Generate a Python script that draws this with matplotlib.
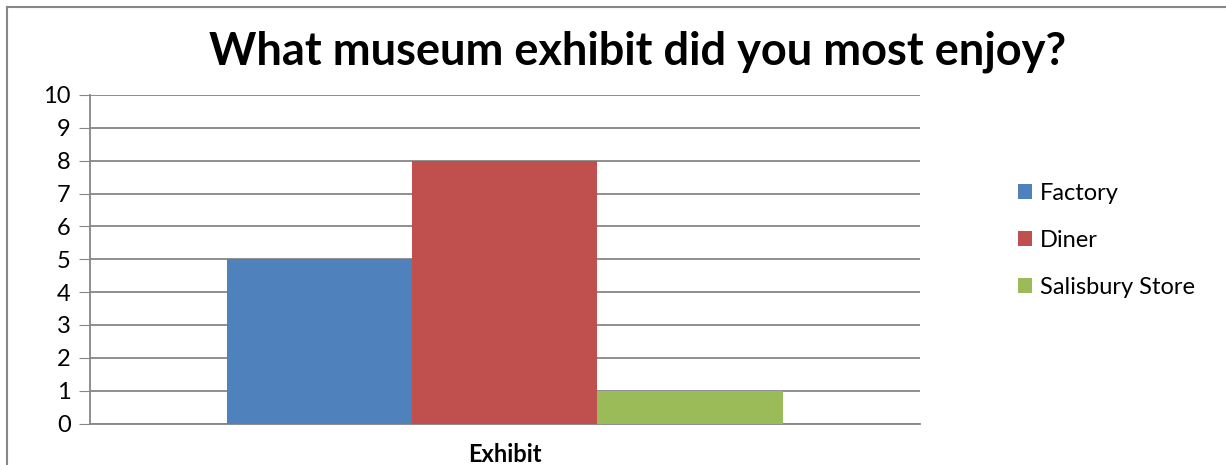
import matplotlib.pyplot as plt
from matplotlib.lines import Line2D

categories = ['Exhibit']
series = ['Factory', 'Diner', 'Salisbury Store']
values = [5, 8, 1]
colors = ['#4F81BD', '#C0504D', '#9BBB59']
yticks = list(range(0, 11))

plt.rcParams['font.family'] = ['Lato', 'DejaVu Sans']

fig = plt.figure(figsize=(12.26, 4.65), dpi=100)
ax = fig.add_axes([0.0734, 0.0892, 0.677, 0.7065])

w = 0.2229
for i, (name, v, c) in enumerate(zip(series, values, colors)):
    ax.bar(0 + (i - 1) * w, v, width=w, color=c, label=name, zorder=3)

ax.set_xlim(-0.5, 0.5)
ax.set_ylim(0, 10)
ax.set_yticks(yticks)
ax.set_xticks([0])
ax.set_xticklabels(categories, fontweight='bold', fontsize=17)
ax.tick_params(axis='x', length=0, pad=14)
ax.tick_params(axis='y', length=8, color='#868686', labelsize=17, pad=6)
ax.grid(axis='y', color='#868686', linewidth=1.3, zorder=0)
for s in ['top', 'right']:
    ax.spines[s].set_visible(False)
for s in ['left', 'bottom']:
    ax.spines[s].set_color('#868686')
    ax.spines[s].set_linewidth(1.3)

fig.text(0.52, 0.888, 'What museum exhibit did you most enjoy?',
         ha='center', va='center', fontsize=32.5, fontweight='bold')

ax.legend(loc='center left', bbox_to_anchor=(1.092, 0.557), frameon=False,
          fontsize=17, handlelength=0.6, handleheight=0.6,
          handletextpad=0.35, labelspacing=1.1)

# outer chart border (left and top edges)
fig.add_artist(Line2D([0.0057, 0.0057], [0, 0.984], color='#868686', lw=1.5,
                      transform=fig.transFigure))
fig.add_artist(Line2D([0.0057, 1], [0.984, 0.984], color='#868686', lw=1.5,
                      transform=fig.transFigure))

fig.savefig('out.png', dpi=100)
